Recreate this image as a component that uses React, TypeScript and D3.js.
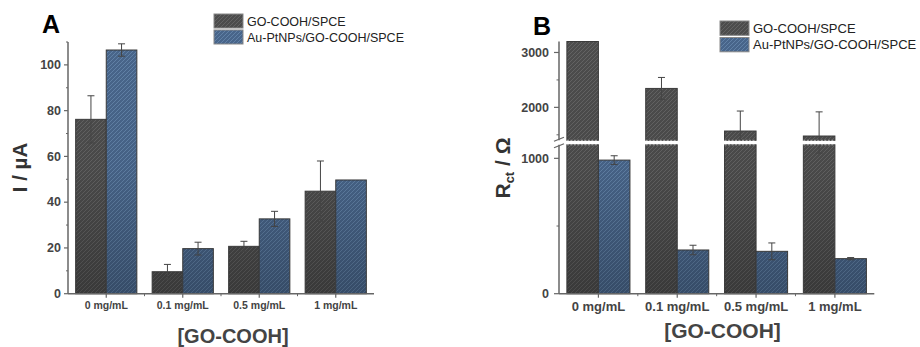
import React from "react";
import * as d3 from "d3";

const categories = ["0 mg/mL", "0.1 mg/mL", "0.5 mg/mL", "1 mg/mL"];
const seriesNames = ["GO-COOH/SPCE", "Au-PtNPs/GO-COOH/SPCE"];

const currentGO = [76.2, 9.6, 20.7, 44.8];
const currentGOErr = [10.3, 3.2, 2.2, 13.2];
const currentAuPt = [106.5, 19.7, 32.7, 49.7];
const currentAuPtErr = [2.7, 2.8, 3.3, 0];

const rctGO = [3200, 2345, 1569, 1478];
const rctGOErr = [0, 200, 364, 440];
const rctAuPt = [987, 323, 313, 259];
const rctAuPtErr = [32, 35, 62, 8];

const ticksA = [0, 20, 40, 60, 80, 100];
const minorA = [10, 30, 50, 70, 90, 110];
const ticksBLow = [0, 1000];
const minorBLow = [500];
const ticksBUp = [2000, 3000];
const minorBUp = [1500, 2500];

const FONT = "'Liberation Sans', Arial, Helvetica, sans-serif";
const AX = "#666";
const TXT = "#444";
const fills = ["url(#hatchDark)", "url(#hatchBlue)"];

function ErrBar({ x, yTop, yBot, capTop = true, capBot = true }: any) {
  return (
    <g stroke="#444" strokeWidth={1}>
      <line x1={x} x2={x} y1={yTop} y2={yBot} />
      {capTop && <line x1={x - 3.5} x2={x + 3.5} y1={yTop} y2={yTop} />}
      {capBot && <line x1={x - 3.5} x2={x + 3.5} y1={yBot} y2={yBot} />}
    </g>
  );
}

function PanelA() {
  const x = d3.scaleBand<string>().domain(categories).range([68, 374]).padding(0);
  const sub = d3.scaleBand<number>().domain([0, 1]).range([0, x.bandwidth()]).paddingInner(0).paddingOuter(0.25);
  const y = d3.scaleLinear().domain([0, 110]).range([293.7, 42]);
  const series = [
    { v: currentGO, e: currentGOErr },
    { v: currentAuPt, e: currentAuPtErr },
  ];
  const y0 = y(0);
  return (
    <g>
      {series.map((s, si) =>
        categories.map((c, i) => {
          const bx = (x(c) as number) + (sub(si) as number);
          const w = sub.bandwidth();
          const yv = y(s.v[i]);
          return (
            <g key={`${si}-${i}`}>
              <rect x={bx} y={yv} width={w} height={y0 - yv} fill={fills[si]} />
              <rect x={bx} y={yv} width={w} height={y0 - yv} fill="url(#shade)" stroke="#3a3a3a" strokeWidth={1} />
            </g>
          );
        })
      )}
      {series.map((s, si) =>
        categories.map((c, i) =>
          s.e[i] > 0 ? (
            <ErrBar
              key={`e${si}-${i}`}
              x={(x(c) as number) + (sub(si) as number) + sub.bandwidth() / 2}
              yTop={y(s.v[i] + s.e[i])}
              yBot={y(s.v[i] - s.e[i])}
            />
          ) : null
        )
      )}
      <line x1={68} x2={68} y1={42} y2={y0} stroke={AX} strokeWidth={1.5} />
      <line x1={68} x2={374} y1={y0} y2={y0} stroke={AX} strokeWidth={1.5} />
      {ticksA.map((t) => (
        <g key={t}>
          <line x1={64} x2={68} y1={y(t)} y2={y(t)} stroke={AX} strokeWidth={1.2} />
          <text x={61} y={y(t) + 4.3} textAnchor="end" fontSize={12.5} fontWeight="bold" fill={TXT} fontFamily={FONT}>
            {t}
          </text>
        </g>
      ))}
      {minorA.map((t) => (
        <line key={t} x1={66} x2={68} y1={y(t)} y2={y(t)} stroke={AX} strokeWidth={1} />
      ))}
      {categories.map((c) => {
        const cx = (x(c) as number) + x.bandwidth() / 2;
        return (
          <g key={c}>
            <line x1={cx} x2={cx} y1={y0} y2={y0 + 4} stroke={AX} strokeWidth={1.2} />
            <text x={cx} y={309} textAnchor="middle" fontSize={10.5} fontWeight="bold" fill={TXT} fontFamily={FONT}>
              {c}
            </text>
          </g>
        );
      })}
      {categories.slice(1).map((c) => (
        <line key={c} x1={x(c) as number} x2={x(c) as number} y1={y0} y2={y0 + 2.5} stroke={AX} strokeWidth={1} />
      ))}
      <text x={233} y={343} textAnchor="middle" fontSize={20} fontWeight="bold" fill={TXT} fontFamily={FONT}>
        [GO-COOH]
      </text>
      <text transform="translate(26.5,167.5) rotate(-90)" textAnchor="middle" fontSize={20.5} fontWeight="bold" fill="#333" fontFamily={FONT}>
        I / µA
      </text>
      <text x={42} y={33} fontSize={25} fontWeight="bold" fill="#000" fontFamily={FONT}>
        A
      </text>
      {seriesNames.map((n, si) => (
        <g key={n}>
          <rect x={214} y={14 + si * 16} width={29} height={14} fill={fills[si]} stroke="#888" strokeWidth={1} />
          <text x={247} y={26 + si * 16} fontSize={12.5} fill="#222" fontFamily={FONT}>
            {n}
          </text>
        </g>
      ))}
    </g>
  );
}

function PanelB() {
  const x = d3.scaleBand<string>().domain(categories).range([559, 874.3]).padding(0);
  const sub = d3.scaleBand<number>().domain([0, 1]).range([0, x.bandwidth()]).paddingInner(0).paddingOuter(0.25);
  const yLow = d3.scaleLinear().domain([0, 1100]).range([293.7, 144.8]);
  const yUp = d3.scaleLinear().domain([1400, 3200]).range([140.3, 41.5]);
  const lowMax = 1100;
  const upMin = 1400;
  const y0 = yLow(0);
  const gapTop = yUp(upMin);
  const gapBot = yLow(lowMax);
  const series = [
    { v: rctGO, e: rctGOErr },
    { v: rctAuPt, e: rctAuPtErr },
  ];
  const bars: any[] = [];
  const errs: any[] = [];
  series.forEach((s, si) => {
    categories.forEach((c, i) => {
      const bx = (x(c) as number) + (sub(si) as number);
      const w = sub.bandwidth();
      const v = s.v[i];
      const lowTop = yLow(Math.min(v, lowMax));
      bars.push(
        <g key={`l${si}-${i}`}>
          <rect x={bx} y={lowTop} width={w} height={y0 - lowTop} fill={fills[si]} />
          <rect x={bx} y={lowTop} width={w} height={y0 - lowTop} fill="url(#shade)" stroke="#3a3a3a" strokeWidth={1} />
        </g>
      );
      if (v > upMin) {
        const upTop = yUp(v);
        bars.push(
          <g key={`u${si}-${i}`}>
            <rect x={bx} y={upTop} width={w} height={gapTop - upTop} fill={fills[si]} />
            <rect x={bx} y={upTop} width={w} height={gapTop - upTop} fill="url(#shade)" stroke="#3a3a3a" strokeWidth={1} />
            <line x1={bx} x2={bx + w} y1={gapTop} y2={gapTop} stroke="#bbb" strokeWidth={1} strokeDasharray="2,1.5" />
            <line x1={bx} x2={bx + w} y1={gapBot} y2={gapBot} stroke="#bbb" strokeWidth={1} strokeDasharray="2,1.5" />
          </g>
        );
      }
      const e = s.e[i];
      if (e > 0) {
        const cx = bx + w / 2;
        const hi = v + e;
        const lo = v - e;
        if (hi > upMin) {
          const a = Math.max(lo, upMin);
          errs.push(<ErrBar key={`eu${si}-${i}`} x={cx} yTop={yUp(hi)} yBot={yUp(a)} capTop={true} capBot={lo >= upMin} />);
        }
        if (lo < lowMax) {
          const b = Math.min(hi, lowMax);
          errs.push(<ErrBar key={`el${si}-${i}`} x={cx} yTop={yLow(b)} yBot={yLow(lo)} capTop={hi <= lowMax} capBot={true} />);
        }
      }
    });
  });
  return (
    <g>
      {bars}
      {errs}
      <line x1={559} x2={559} y1={41.5} y2={gapTop} stroke={AX} strokeWidth={1.5} />
      <line x1={559} x2={559} y1={gapBot} y2={y0} stroke={AX} strokeWidth={1.5} />
      <line x1={554} x2={564} y1={gapTop + 1} y2={gapTop - 3} stroke={AX} strokeWidth={1.2} />
      <line x1={554} x2={564} y1={gapBot + 3} y2={gapBot - 1} stroke={AX} strokeWidth={1.2} />
      <line x1={559} x2={874.3} y1={y0} y2={y0} stroke={AX} strokeWidth={1.5} />
      {ticksBLow.map((t) => (
        <g key={t}>
          <line x1={554} x2={559} y1={yLow(t)} y2={yLow(t)} stroke={AX} strokeWidth={1.2} />
          <text x={549} y={yLow(t) + 4.4} textAnchor="end" fontSize={12.5} fontWeight="bold" fill={TXT} fontFamily={FONT}>
            {t}
          </text>
        </g>
      ))}
      {ticksBUp.map((t) => (
        <g key={t}>
          <line x1={554} x2={559} y1={yUp(t)} y2={yUp(t)} stroke={AX} strokeWidth={1.2} />
          <text x={549} y={yUp(t) + 4.4} textAnchor="end" fontSize={12.5} fontWeight="bold" fill={TXT} fontFamily={FONT}>
            {t}
          </text>
        </g>
      ))}
      {minorBLow.map((t) => (
        <line key={t} x1={556.5} x2={559} y1={yLow(t)} y2={yLow(t)} stroke={AX} strokeWidth={1} />
      ))}
      {minorBUp.map((t) => (
        <line key={t} x1={556.5} x2={559} y1={yUp(t)} y2={yUp(t)} stroke={AX} strokeWidth={1} />
      ))}
      {categories.map((c) => {
        const cx = (x(c) as number) + x.bandwidth() / 2;
        return (
          <g key={c}>
            <line x1={cx} x2={cx} y1={y0} y2={y0 + 4} stroke={AX} strokeWidth={1.2} />
            <text x={cx} y={311} textAnchor="middle" fontSize={13} fontWeight="bold" fill={TXT} fontFamily={FONT}>
              {c}
            </text>
          </g>
        );
      })}
      {categories.slice(1).map((c) => (
        <line key={c} x1={x(c) as number} x2={x(c) as number} y1={y0} y2={y0 + 2.5} stroke={AX} strokeWidth={1} />
      ))}
      <text x={722.5} y={338} textAnchor="middle" fontSize={21} fontWeight="bold" fill={TXT} fontFamily={FONT}>
        [GO-COOH]
      </text>
      <text transform="translate(510,168) rotate(-90)" textAnchor="middle" fontSize={21} fontWeight="bold" fill="#333" fontFamily={FONT}>
        R<tspan fontSize={13} dy={4}>ct</tspan>
        <tspan dy={-4}> / Ω</tspan>
      </text>
      <text x={533} y={35} fontSize={25} fontWeight="bold" fill="#000" fontFamily={FONT}>
        B
      </text>
      {seriesNames.map((n, si) => (
        <g key={n}>
          <rect x={720} y={21 + si * 16.5} width={29} height={14.3} fill={fills[si]} stroke="#888" strokeWidth={1} />
          <text x={753} y={32.5 + si * 16.2} fontSize={13} fill="#222" fontFamily={FONT}>
            {n}
          </text>
        </g>
      ))}
    </g>
  );
}

export default function App() {
  return (
    <svg width={920} height={347} style={{ position: "absolute", left: 0, top: 0, background: "#fff" }}>
      <defs>
        <pattern id="hatchDark" patternUnits="userSpaceOnUse" width={4} height={4}>
          <rect width={4} height={4} fill="#4c4c4c" />
          <path d="M-1,1 l2,-2 M0,4 l4,-4 M3,5 l2,-2" stroke="#636363" strokeWidth={1} />
        </pattern>
        <pattern id="hatchBlue" patternUnits="userSpaceOnUse" width={4} height={4}>
          <rect width={4} height={4} fill="#48658a" />
          <path d="M-1,1 l2,-2 M0,4 l4,-4 M3,5 l2,-2" stroke="#6181a6" strokeWidth={1} />
        </pattern>
        <linearGradient id="shade" gradientUnits="userSpaceOnUse" x1={0} x2={0} y1={42} y2={294}>
          <stop offset="0" stopColor="#000" stopOpacity={0} />
          <stop offset="0.5" stopColor="#000" stopOpacity={0.04} />
          <stop offset="1" stopColor="#000" stopOpacity={0.25} />
        </linearGradient>
      </defs>
      <PanelA />
      <PanelB />
    </svg>
  );
}
